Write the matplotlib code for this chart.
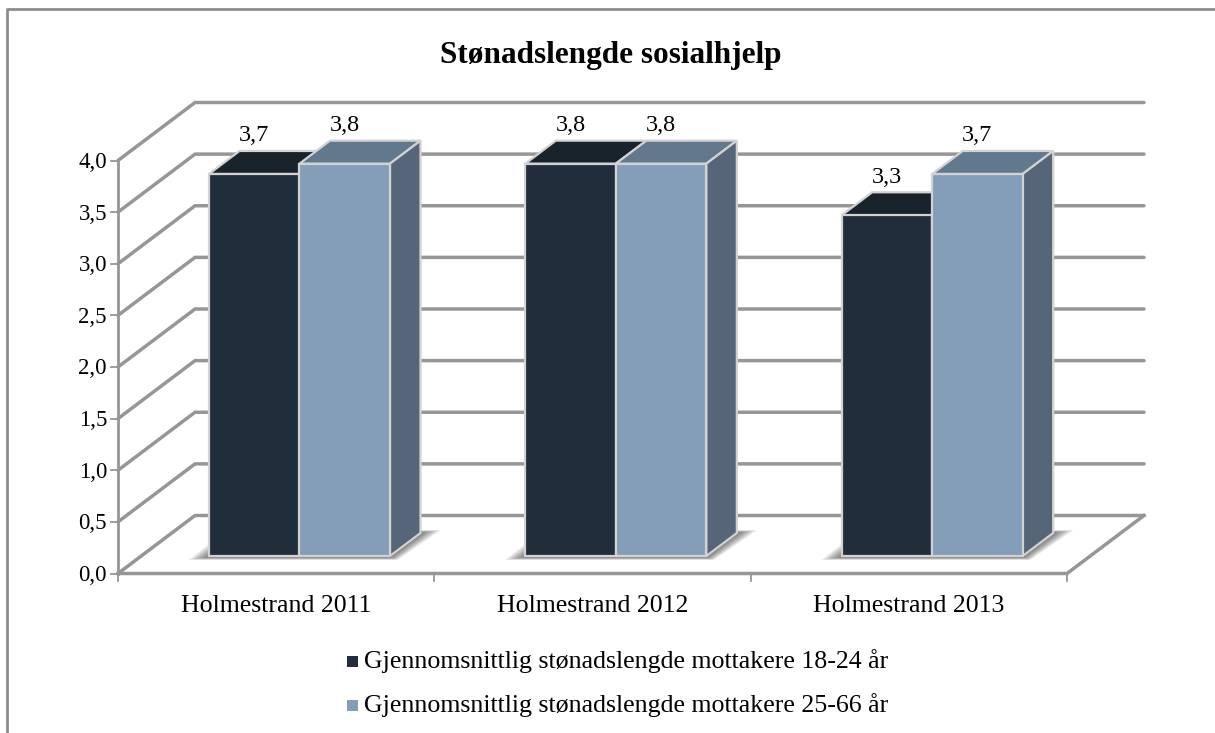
import matplotlib
matplotlib.use('Agg')
import matplotlib.pyplot as plt
from matplotlib.patches import Polygon, Rectangle

categories = ['Holmestrand 2011', 'Holmestrand 2012', 'Holmestrand 2013']
young = [3.7, 3.8, 3.3]
older = [3.8, 3.8, 3.7]
young_labels = ['3,7', '3,8', '3,3']
older_labels = ['3,8', '3,8', '3,7']
series_names = ['Gjennomsnittlig stønadslengde mottakere 18-24 år',
                'Gjennomsnittlig stønadslengde mottakere 25-66 år']
yticks = [0, 0.5, 1, 1.5, 2, 2.5, 3, 3.5, 4]
ytick_labels = ['0,0', '0,5', '1,0', '1,5', '2,0', '2,5', '3,0', '3,5', '4,0']

W, H = 1215, 733
plt.rcParams['font.family'] = ['Liberation Serif', 'DejaVu Serif']

fig = plt.figure(figsize=(W / 100, H / 100), dpi=100)

# outer frame, open at the bottom and right
fig.add_artist(plt.Line2D([7 / W, 7 / W, 1], [0, 1 - 8.5 / H, 1 - 8.5 / H], transform=fig.transFigure,
                          color='#8c8c8c', lw=2))

# axes = front plane of the fake 3d box
ax = fig.add_axes([118 / W, 1 - 573.5 / H, 949 / W, 413 / H])
ax.set_xlim(0, 3)
ax.set_ylim(0, 4)
ax.axis('off')

sx = 3 / 949   # data units per pixel
sy = 4 / 413
depth_x, depth_y = 77 * sx, 58 * sy
bar_dx, bar_dy = 30.5 * sx, 23 * sy
lift = 17.5 * sy
inset = 91 * sx
bar_w = 90.5 * sx

grid = '#969696'
grid_lw = 2.5

# walls
for v in yticks:
    ax.plot([0, depth_x, 3 + depth_x], [v, v + depth_y, v + depth_y], color=grid, lw=grid_lw,
            clip_on=False, solid_capstyle='round', solid_joinstyle='miter', zorder=1)
    ax.plot([-7 * sx, 0], [v, v], color=grid, lw=1.3, clip_on=False, zorder=1)
ax.plot([0, 0], [0, 4], color=grid, lw=2, clip_on=False, zorder=1)
ax.plot([0, 3, 3 + depth_x], [0, 0, depth_y], color=grid, lw=grid_lw, clip_on=False,
        solid_joinstyle='miter', zorder=1)
for i in range(4):
    ax.plot([i, i], [0, -7 * sy], color=grid, lw=1.3, clip_on=False, zorder=1)


def shadow(x0, x1):
    # soft floor shadow, stacked polygons that shrink towards the bar
    n = 18
    for k in range(n):
        f = 1 - k / n
        ax.add_patch(Polygon([(x0 - 21 * f * sx, lift - (1 + 3 * f) * sy),
                              (x0 + 2 * sx, lift + 14 * f * sy),
                              (x1, lift + 12 * sy),
                              (x1 + bar_dx, lift + bar_dy + 3 * f * sy),
                              (x1 + bar_dx + 21 * f * sx, lift + bar_dy + 3 * f * sy),
                              (x1 + 8 * f * sx, lift - (1 + 3 * f) * sy)],
                             closed=True, fc='#000000', ec='none', alpha=0.035,
                             clip_on=False, zorder=2))


def box(x0, val, front, top, side, draw_side):
    edge = '#d2d2d2'
    y0, y1 = lift, val + lift
    ax.add_patch(Polygon([(x0, y1), (x0 + bar_w, y1), (x0 + bar_w + bar_dx, y1 + bar_dy),
                          (x0 + bar_dx, y1 + bar_dy)], closed=True, fc=top, ec=edge, lw=1.6,
                         clip_on=False, zorder=3))
    if draw_side:
        ax.add_patch(Polygon([(x0 + bar_w, y0), (x0 + bar_w + bar_dx, y0 + bar_dy),
                              (x0 + bar_w + bar_dx, y1 + bar_dy), (x0 + bar_w, y1)], closed=True,
                             fc=side, ec=edge, lw=1.6, clip_on=False, zorder=3))
    ax.add_patch(Rectangle((x0, y0), bar_w, y1 - y0, fc=front, ec=edge, lw=1.6,
                           clip_on=False, zorder=4))


fs = 18.6
for i in range(3):
    x0 = i + inset
    shadow(x0, x0 + 2 * bar_w)
    box(x0, young[i], '#212d3a', '#18232c', '#18232c', False)
    box(x0 + bar_w, older[i], '#849eba', '#62788d', '#566678', True)
    ax.text(x0 + bar_w / 2, young[i] + lift + bar_dy + 15 * sy, young_labels[i],
            ha='center', va='center', fontsize=17.5, color='black', zorder=6, clip_on=False)
    ax.text(x0 + bar_w * 1.5, older[i] + lift + bar_dy + 15 * sy, older_labels[i],
            ha='center', va='center', fontsize=17.5, color='black', zorder=6, clip_on=False)
    ax.text(i + 0.5, -32 * sy, categories[i], ha='center', va='center', fontsize=fs, color='black')

for v, t in zip(yticks, ytick_labels):
    ax.text(-11 * sx, v - 2 * sy, t, ha='right', va='center', fontsize=16.5, color='black')

# title
fig.text(611 / W, 1 - 55 / H, 'Stønadslengde sosialhjelp', ha='center', va='center',
         fontsize=22.5, fontweight='bold')

# legend
for name, col, yp in zip(series_names, ['#212d3a', '#849eba'], [661, 705]):
    fig.add_artist(Rectangle((347 / W, 1 - (yp + 5.5) / H), 11 / W, 11 / H, transform=fig.transFigure,
                             fc=col, ec='none'))
    fig.text(364 / W, 1 - yp / H, name, ha='left', va='center', fontsize=fs)

fig.savefig('out.png', dpi=100)
